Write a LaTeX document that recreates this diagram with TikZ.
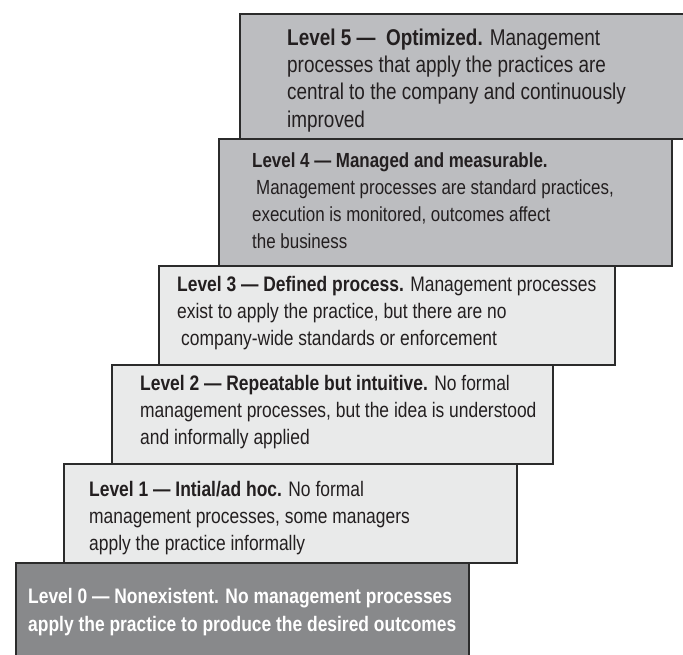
\documentclass[tikz,border=0pt]{standalone}
\usepackage{fontspec}
\setmainfont[FakeStretch=0.83]{Liberation Sans}
\definecolor{inkdark}{HTML}{231F20}
\definecolor{edgegray}{HTML}{2B2B2B}
\definecolor{upperfill}{HTML}{BCBDC0}
\definecolor{middlefill}{HTML}{E9EAEA}
\definecolor{basefill}{HTML}{88898B}
\tikzset{
  stair/.style={draw=edgegray, line width=1.5pt, rectangle, inner sep=0pt, anchor=north west},
  % text blocks are placed by the baseline of their last line
  stairtext/.style={anchor=base west, inner sep=0pt, align=left, text=inkdark,
    font=\fontsize{21}{27}\selectfont},
}
\begin{document}
\begin{tikzpicture}[x=1pt, y=-1pt]
\useasboundingbox (0,0) rectangle (683,654);
\fill[white] (0,0) rectangle (683,654);

% the steps, from the top one down; each lower step overlaps the one above
\node[stair, fill=upperfill, minimum width=460pt, minimum height=125pt] (s5) at (239,13) {};
\node[stair, fill=upperfill, minimum width=453pt, minimum height=127pt] (s4) at (218,138) {};
\node[stair, fill=middlefill, minimum width=456pt, minimum height=99pt] (s3) at (158,265) {};
\node[stair, fill=middlefill, minimum width=441pt, minimum height=99pt] (s2) at (111,364) {};
\node[stair, fill=middlefill, minimum width=453pt, minimum height=99pt] (s1) at (63,463) {};
\node[stair, fill=basefill, minimum width=453pt, minimum height=100pt] (s0) at (15,562) {};

% Level 5
\node[stairtext, font=\fontsize{22.8}{27.3}\selectfont] (t5) at (287,127) {\textbf{Level 5 —\ \ Optimized.} Management\\processes that apply the practices are\\central to the company and continuously\\improved};

% Level 4
\node[stairtext, font=\fontsize{20.4}{27}\selectfont] (t4) at (252,248) {\textbf{Level 4 — Managed and measurable.}\\\hspace{4pt}Management processes are standard practices,\\execution is monitored, outcomes affect\\the business};

% Level 3
\node[stairtext] (t3) at (177,345) {\textbf{Level 3 — Defined process.} Management processes\\exist to apply the practice, but there are no\\\hspace{4pt}company-wide standards or enforcement};

% Level 2
\node[stairtext] (t2) at (140,444) {\textbf{Level 2 — Repeatable but intuitive.} No formal\\management processes, but the idea is understood\\and informally applied};

% Level 1
\node[stairtext] (t1) at (89,550) {\textbf{Level 1 — Intial/ad hoc.} No formal\\management processes, some managers\\apply the practice informally};

% Level 0
\node[stairtext, text=white, font=\fontsize{21}{27.5}\selectfont\bfseries] (t0) at (28,631) {Level 0 — Nonexistent. No management processes\\apply the practice to produce the desired outcomes};
\end{tikzpicture}
\end{document}
